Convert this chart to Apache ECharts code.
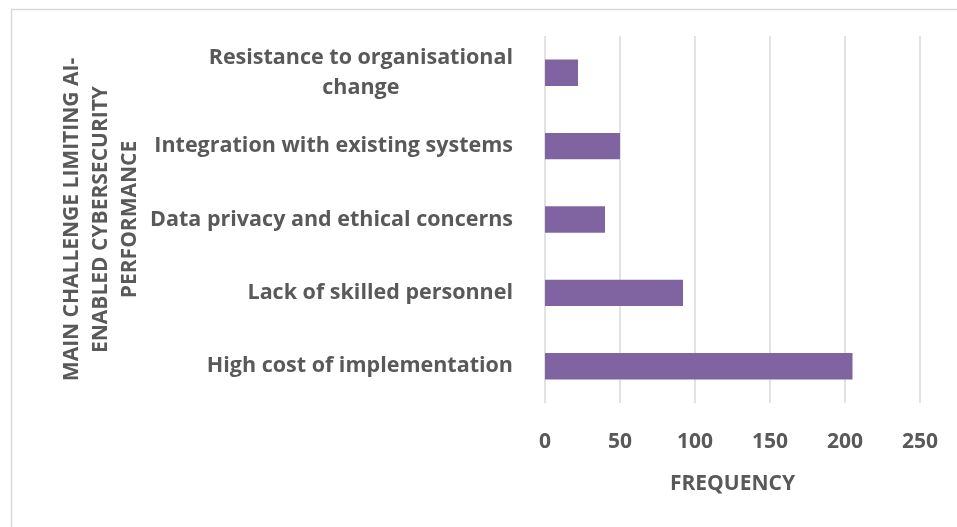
<!DOCTYPE html>
<html>
<head>
<meta charset="utf-8">
<script src="https://cdn.jsdelivr.net/npm/echarts@6/dist/echarts.min.js"></script>
<style>
  html, body { margin: 0; padding: 0; background: #ffffff; }
  #chart { width: 957px; height: 527px; }
</style>
</head>
<body>
<div id="chart"></div>
<script>
// Challenges, listed bottom-to-top as they appear on the category axis
const challenges = [
  'High cost of implementation',
  'Lack of skilled personnel',
  'Data privacy and ethical concerns',
  'Integration with existing systems',
  'Resistance to organisational change'
];
const frequency = [205, 92, 40, 50, 22];
const frequencyTicks = [0, 50, 100, 150, 200, 250];
const xAxisTitle = 'FREQUENCY';
const yAxisTitle = 'MAIN CHALLENGE LIMITING AI-\nENABLED CYBERSECURITY\nPERFORMANCE';

const FONT = '"Open Sans", sans-serif';
const TEXT_COLOR = '#595959';
const FONT_SIZE = 21;

// Wrap long category names onto several centred lines
function wrapLabel(name, maxChars) {
  const words = name.split(' ');
  const lines = [];
  let cur = '';
  words.forEach(w => {
    const next = cur ? cur + ' ' + w : w;
    if (next.length > maxChars && cur) { lines.push(cur); cur = w; }
    else { cur = next; }
  });
  if (cur) lines.push(cur);
  return lines.map(l => '{c|' + l + '}').join('\n');
}

const chart = echarts.init(document.getElementById('chart'), null, { renderer: 'canvas' });
chart.setOption({
  backgroundColor: '#ffffff',
  animation: false,
  graphic: [{
    type: 'rect',
    left: 9, top: 7,
    shape: { width: 960, height: 519 },
    style: { fill: 'none', stroke: '#d9d9d9', lineWidth: 1.5 },
    silent: true
  }],
  grid: { left: 545, right: 37, top: 36, bottom: 124, containLabel: false },
  xAxis: {
    type: 'value',
    min: frequencyTicks[0],
    max: frequencyTicks[frequencyTicks.length - 1],
    interval: frequencyTicks[1] - frequencyTicks[0],
    name: xAxisTitle,
    nameLocation: 'middle',
    nameGap: 71,
    nameTextStyle: { fontFamily: FONT, fontWeight: 'bold', fontSize: 21, color: TEXT_COLOR },
    axisLine: { show: false },
    axisTick: { show: false },
    axisLabel: { margin: 29, fontFamily: FONT, fontWeight: 'bold', fontSize: FONT_SIZE, color: TEXT_COLOR },
    splitLine: { show: true, lineStyle: { color: '#d9d9d9', width: 1.5 } }
  },
  yAxis: {
    type: 'category',
    data: challenges,
    name: yAxisTitle,
    nameLocation: 'middle',
    nameRotate: 90,
    nameGap: 400,
    nameTextStyle: { fontFamily: FONT, fontWeight: 'bold', fontSize: FONT_SIZE, color: TEXT_COLOR, lineHeight: 29, align: 'center' },
    axisLine: { show: false },
    axisTick: { show: false },
    axisLabel: {
      margin: 32,
      formatter: v => wrapLabel(v, 34),
      rich: {
        c: { align: 'center', fontFamily: FONT, fontWeight: 'bold', fontSize: 21.5, color: TEXT_COLOR, lineHeight: 30 }
      }
    }
  },
  series: [{
    type: 'bar',
    data: frequency,
    barWidth: '36%',
    itemStyle: { color: '#8064A2' }
  }]
});
</script>
</body>
</html>
